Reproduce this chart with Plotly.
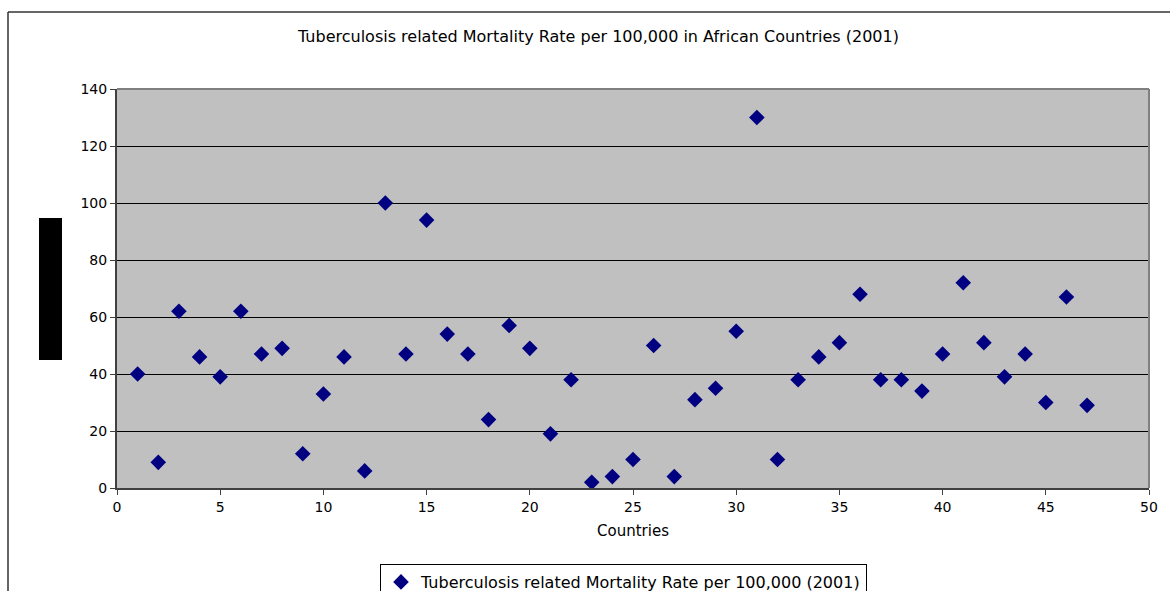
import plotly.graph_objects as go

countries = list(range(1, 48))
mortality = [40, 9, 62, 46, 39, 62, 47, 49, 12, 33,
             46, 6, 100, 47, 94, 54, 47, 24, 57, 49,
             19, 38, 2, 4, 10, 50, 4, 31, 35, 55,
             130, 10, 38, 46, 51, 68, 38, 38, 34, 47,
             72, 51, 39, 47, 30, 67, 29]

title_text = "Tuberculosis related Mortality Rate per 100,000 in African Countries (2001)"
series_name = "Tuberculosis related Mortality Rate per 100,000 (2001)"
x_title = "Countries"

W, H = 1170, 591
L, R, T, B = 117, 1149, 89, 488
FONT = "DejaVu Sans"

def px_x(p):
    return (p - L) / (R - L)

def px_y(p):
    return (B - p) / (B - T)

fig = go.Figure()
fig.add_trace(go.Scatter(
    x=countries, y=mortality, mode="markers", name=series_name,
    marker=dict(symbol="diamond", size=12, color="#000080",
                line=dict(width=0)),
    showlegend=True,
))

fig.update_layout(
    width=W, height=H,
    margin=dict(l=L, r=W - R, t=T, b=H - B, pad=0, autoexpand=False),
    paper_bgcolor="white",
    plot_bgcolor="#C0C0C0",
    font=dict(family=FONT, size=14, color="black"),
    showlegend=True,
    legend=dict(
        x=px_x(380), y=px_y(564), xanchor="left", yanchor="top",
        bgcolor="white", bordercolor="black", borderwidth=1,
        font=dict(family=FONT, size=16, color="black"),
        itemwidth=30, tracegroupgap=0,
    ),
    xaxis=dict(
        range=[0, 50], dtick=5, tick0=0, showgrid=False, zeroline=False,
        showline=True, linecolor="#404040", linewidth=2,
        ticks="outside", ticklen=5, tickcolor="#404040", tickwidth=1,
        tickfont=dict(family=FONT, size=14, color="black"),
        title=dict(text=x_title, font=dict(family=FONT, size=15, color="black"), standoff=12),
        fixedrange=True,
    ),
    yaxis=dict(
        range=[0, 140], dtick=20, tick0=0, showgrid=True, gridcolor="black", gridwidth=1,
        zeroline=False, showline=True, linecolor="#404040", linewidth=2,
        ticks="outside", ticklen=5, tickcolor="#404040", tickwidth=1,
        tickfont=dict(family=FONT, size=14, color="black"),
        fixedrange=True,
    ),
    annotations=[dict(
        text=title_text, xref="paper", yref="paper",
        x=px_x(598), y=px_y(36), xanchor="center", yanchor="middle",
        showarrow=False, font=dict(family=FONT, size=16, color="black"),
    )],
    shapes=[
        # outer chart frame (left & top edges visible)
        dict(type="line", xref="paper", yref="paper",
             x0=px_x(8), x1=px_x(8), y0=px_y(600), y1=px_y(12),
             line=dict(color="#333333", width=1.5)),
        dict(type="line", xref="paper", yref="paper",
             x0=px_x(8), x1=px_x(1180), y0=px_y(12), y1=px_y(12),
             line=dict(color="#333333", width=1.5)),
        # plot area border top & right (gray)
        dict(type="line", xref="paper", yref="paper", layer="above",
             x0=0, x1=1, y0=1, y1=1, line=dict(color="#808080", width=2)),
        dict(type="line", xref="paper", yref="paper", layer="above",
             x0=1, x1=1, y0=0, y1=1, line=dict(color="#808080", width=2)),
        # black block at left (y-axis title artifact)
        dict(type="rect", xref="paper", yref="paper",
             x0=px_x(39), x1=px_x(62), y0=px_y(360), y1=px_y(218),
             fillcolor="black", line=dict(width=0)),
    ],
)

fig.write_html("out.html")
